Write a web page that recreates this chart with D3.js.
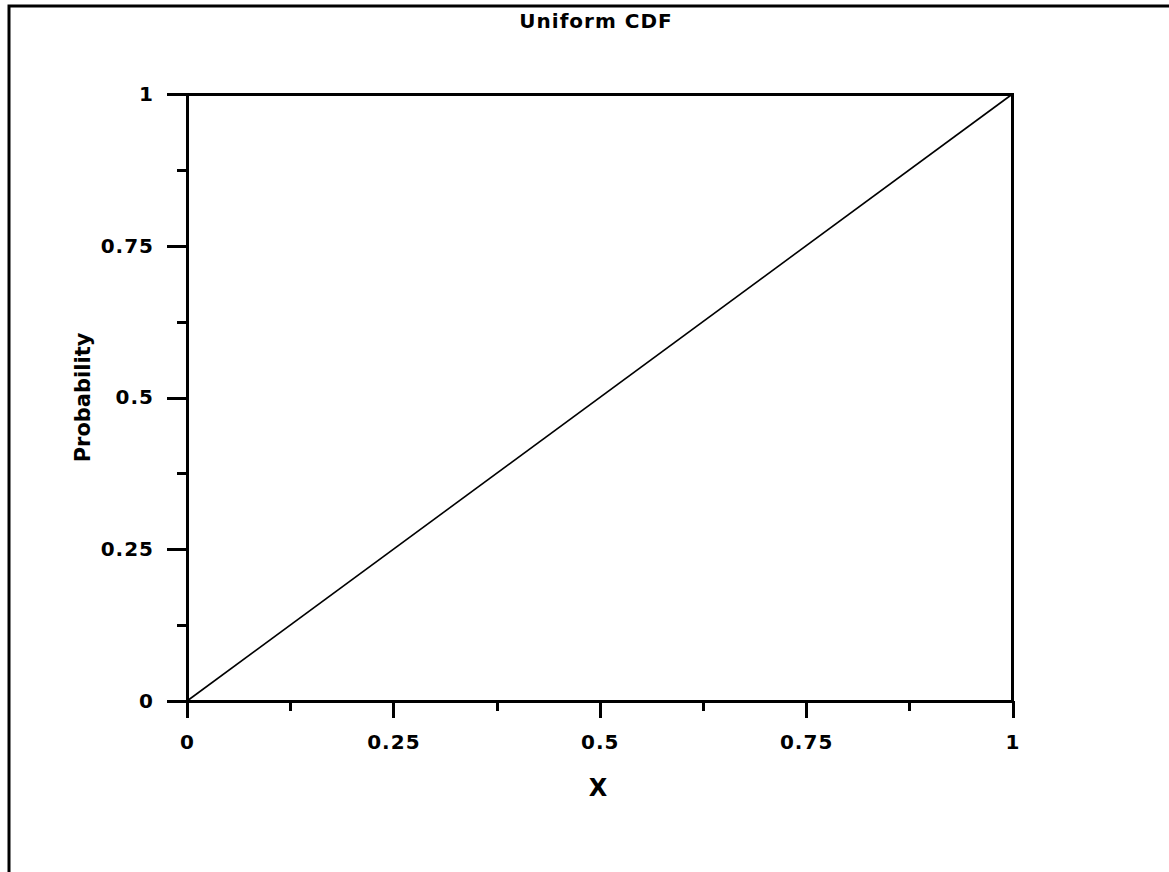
<!DOCTYPE html>
<html>
<head>
<meta charset="utf-8">
<script src="https://cdn.jsdelivr.net/npm/d3@7"></script>
<style>
  body { margin: 0; background: #fff; }
  text { font-family: "DejaVu Sans", sans-serif; font-weight: bold; fill: #000; }
</style>
</head>
<body>
<div id="chart"></div>
<script>
// 資料：均勻分佈 CDF
var xValues = [0, 1];
var yValues = [0, 1];
var majorTicks = [0, 0.25, 0.5, 0.75, 1];
var minorTicks = [0.125, 0.375, 0.625, 0.875];
var tickLabels = ["0", "0.25", "0.5", "0.75", "1"];
var titleText = "Uniform CDF";
var xLabel = "X";
var yLabel = "Probability";

var width = 1169, height = 872;
var plot = { left: 187, right: 1012.5, top: 94, bottom: 701 };

var svg = d3.select("#chart").append("svg")
  .attr("width", width)
  .attr("height", height);

// 外框（左、上）
svg.append("path")
  .attr("d", "M9," + height + "V6H" + width)
  .attr("fill", "none")
  .attr("stroke", "#000")
  .attr("stroke-width", 3);

var x = d3.scaleLinear().domain([0, 1]).range([plot.left, plot.right]);
var y = d3.scaleLinear().domain([0, 1]).range([plot.bottom, plot.top]);

// 主刻度
var xAxis = d3.axisBottom(x)
  .tickValues(majorTicks)
  .tickSize(17)
  .tickSizeOuter(0)
  .tickPadding(17)
  .tickFormat((d, i) => tickLabels[i]);

var gx = svg.append("g")
  .attr("transform", "translate(0," + plot.bottom + ")")
  .call(xAxis);

var yAxis = d3.axisLeft(y)
  .tickValues(majorTicks)
  .tickSize(20)
  .tickSizeOuter(0)
  .tickPadding(13)
  .tickFormat((d, i) => tickLabels[i]);

var gy = svg.append("g")
  .attr("transform", "translate(" + plot.left + ",0)")
  .call(yAxis);

// 次刻度
svg.append("g")
  .attr("transform", "translate(0," + plot.bottom + ")")
  .call(d3.axisBottom(x).tickValues(minorTicks).tickSize(10).tickSizeOuter(0).tickFormat(""));
svg.append("g")
  .attr("transform", "translate(" + plot.left + ",0)")
  .call(d3.axisLeft(y).tickValues(minorTicks).tickSize(10).tickSizeOuter(0).tickFormat(""));

svg.selectAll(".domain").remove();
svg.selectAll(".tick line")
  .attr("stroke", "#000")
  .attr("stroke-width", 3)
  .attr("shape-rendering", "crispEdges");
svg.selectAll(".tick text")
  .style("font-size", "20px")
  .style("letter-spacing", "1px");

// 繪圖框
svg.append("rect")
  .attr("x", plot.left)
  .attr("y", plot.top)
  .attr("width", plot.right - plot.left)
  .attr("height", plot.bottom - plot.top)
  .attr("fill", "none")
  .attr("stroke", "#000")
  .attr("stroke-width", 3)
  .attr("shape-rendering", "crispEdges");

// CDF 線
var line = d3.line()
  .x((d, i) => x(xValues[i]))
  .y((d, i) => y(yValues[i]));

svg.append("path")
  .datum(xValues)
  .attr("d", line)
  .attr("fill", "none")
  .attr("stroke", "#000")
  .attr("stroke-width", 1.6);

// 標題與軸標籤
svg.append("text")
  .attr("x", 596)
  .attr("y", 28)
  .attr("text-anchor", "middle")
  .style("font-size", "20px")
  .style("letter-spacing", "1px")
  .text(titleText);

svg.append("text")
  .attr("x", 598)
  .attr("y", 796)
  .attr("text-anchor", "middle")
  .style("font-size", "24px")
  .text(xLabel);

svg.append("text")
  .attr("transform", "translate(90," + ((plot.top + plot.bottom) / 2) + ") rotate(-90)")
  .attr("text-anchor", "middle")
  .style("font-size", "21px")
  .text(yLabel);
</script>
</body>
</html>
